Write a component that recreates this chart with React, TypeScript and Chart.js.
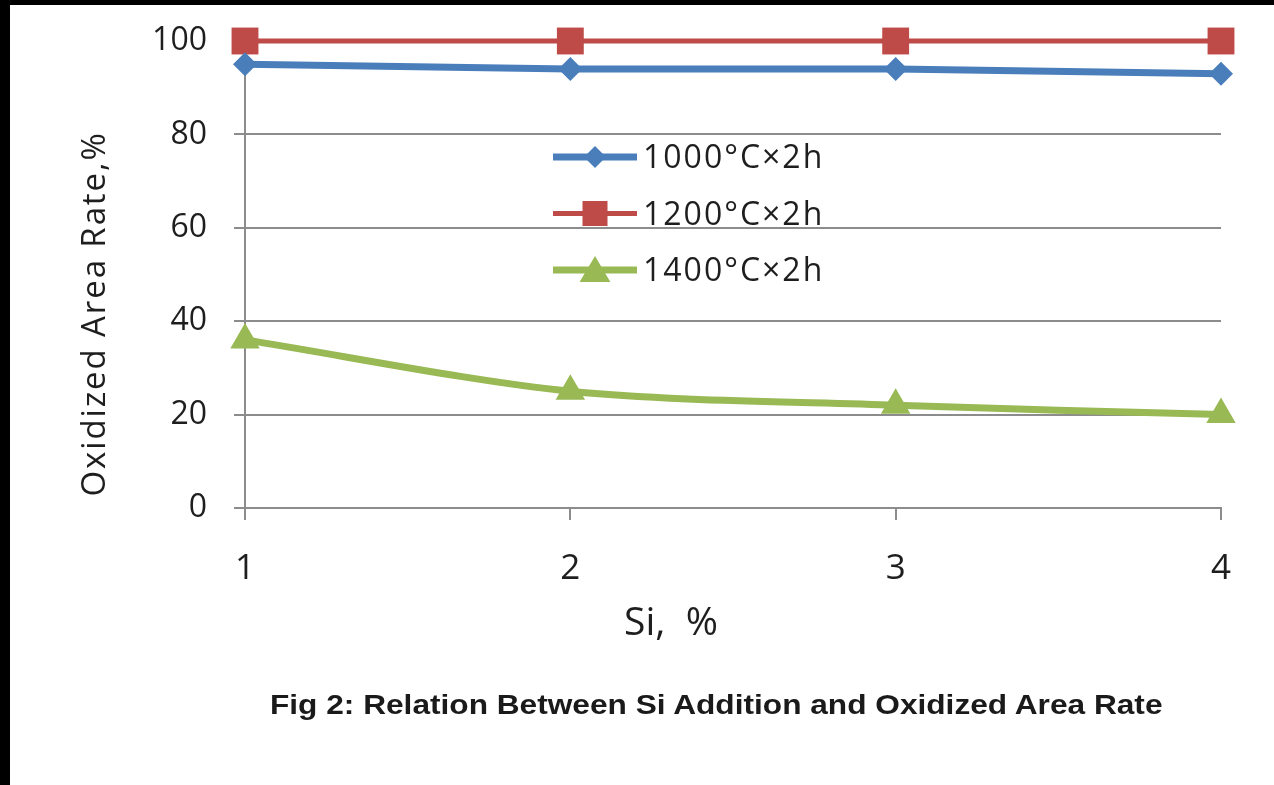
import React, { useEffect, useRef } from "react";
import { Chart, registerables } from "chart.js";

Chart.register(...registerables);

// ---- data ----
const categories = ["1", "2", "3", "4"];
const rate1000 = [95, 94, 94, 93];
const rate1200 = [100, 100, 100, 100];
const rate1400 = [36, 25, 22, 20];
const seriesNames = ["1000°C×2h", "1200°C×2h", "1400°C×2h"];
const yTickValues = [0, 20, 40, 60, 80, 100];
const xAxisTitle = "Si,  %";
const yAxisTitle = "Oxidized Area Rate,%";
const captionText = "Fig 2: Relation Between Si Addition and Oxidized Area Rate";

// ---- styles ----
const BLUE = "#4A7EBB";
const RED = "#BE4B48";
const GREEN = "#98B954";
const GRID = "#8C8C8C";
const TEXT = "#1E1E1E";
const FONT = '"Open Sans", "Noto Sans", sans-serif';

function drawMarker(ctx: CanvasRenderingContext2D, style: string, x: number, y: number, size: number) {
  ctx.beginPath();
  if (style === "rectRot") {
    ctx.moveTo(x, y - size);
    ctx.lineTo(x + size, y);
    ctx.lineTo(x, y + size);
    ctx.lineTo(x - size, y);
    ctx.closePath();
  } else if (style === "rect") {
    ctx.rect(x - size, y - size, size * 2, size * 2);
  } else {
    ctx.moveTo(x, y - size);
    ctx.lineTo(x + size * 1.1, y + size * 0.85);
    ctx.lineTo(x - size * 1.1, y + size * 0.85);
    ctx.closePath();
  }
  ctx.fill();
}

const insideLegend = {
  id: "insideLegend",
  afterDatasetsDraw(chart: any) {
    const { ctx, chartArea } = chart;
    const x0 = chartArea.left + 308;
    const x1 = chartArea.left + 392;
    const xm = (x0 + x1) / 2;
    const sizes = [11, 12.5, 14];
    chart.data.datasets.forEach((ds: any, i: number) => {
      const y = chartArea.top + 116 + i * 56.5;
      ctx.save();
      ctx.strokeStyle = ds.borderColor;
      ctx.lineWidth = ds.borderWidth;
      ctx.beginPath();
      ctx.moveTo(x0, y);
      ctx.lineTo(x1, y);
      ctx.stroke();
      ctx.fillStyle = ds.backgroundColor;
      drawMarker(ctx, ds.pointStyle, xm, y, sizes[i]);
      ctx.fillStyle = TEXT;
      ctx.font = `32px ${FONT}`;
      (ctx as any).letterSpacing = "2px";
      ctx.textAlign = "left";
      ctx.textBaseline = "middle";
      ctx.fillText(ds.label, x1 + 6, y + 2);
      ctx.restore();
    });
  },
};

const axisTitles = {
  id: "axisTitles",
  afterDraw(chart: any) {
    const { ctx, chartArea } = chart;
    ctx.save();
    ctx.fillStyle = TEXT;
    ctx.textAlign = "center";
    ctx.textBaseline = "middle";
    // y title
    ctx.font = `33px ${FONT}`;
    (ctx as any).letterSpacing = "1.9px";
    ctx.translate(chartArea.left - 149, chartArea.top + 273);
    ctx.rotate(-Math.PI / 2);
    ctx.fillText(yAxisTitle, 0, 0);
    ctx.restore();
    ctx.save();
    ctx.fillStyle = TEXT;
    ctx.textAlign = "center";
    ctx.textBaseline = "middle";
    ctx.font = `39px ${FONT}`;
    ctx.fillText(xAxisTitle, chartArea.left + 426, chartArea.bottom + 116);
    ctx.restore();
  },
};

export default function App() {
  const canvasRef = useRef<HTMLCanvasElement | null>(null);

  useEffect(() => {
    if (!canvasRef.current) return;
    const chart = new Chart(canvasRef.current, {
      type: "line",
      data: {
        labels: categories,
        datasets: [
          {
            label: seriesNames[0],
            data: rate1000,
            borderColor: BLUE,
            backgroundColor: BLUE,
            borderWidth: 7,
            pointStyle: "rectRot",
            pointRadius: 12,
            pointBorderWidth: 0,
            tension: 0,
            clip: false,
          },
          {
            label: seriesNames[1],
            data: rate1200,
            borderColor: RED,
            backgroundColor: RED,
            borderWidth: 5,
            pointStyle: "rect",
            pointRadius: 19,
            pointBorderWidth: 0,
            tension: 0,
            clip: false,
          },
          {
            label: seriesNames[2],
            data: rate1400,
            borderColor: GREEN,
            backgroundColor: GREEN,
            borderWidth: 7,
            pointStyle: "triangle",
            pointRadius: 17,
            pointBorderWidth: 0,
            tension: 0.3,
            clip: false,
          },
        ] as any,
      },
      options: {
        animation: false,
        responsive: false,
        devicePixelRatio: 1,
        layout: { padding: { left: 0, top: 41, right: 53, bottom: 177 } },
        plugins: {
          legend: { display: false },
          tooltip: { enabled: false },
          title: { display: false },
        },
        scales: {
          x: {
            type: "category",
            offset: false,
            afterFit: (scale: any) => {
              scale.height = 100;
            },
            grid: {
              display: true,
              drawOnChartArea: false,
              drawTicks: true,
              tickLength: 12,
              color: GRID,
              lineWidth: 2,
            },
            border: { display: true, color: GRID, width: 2 },
            ticks: {
              color: TEXT,
              font: { family: FONT, size: 35 },
              padding: 28,
              maxRotation: 0,
            },
          },
          y: {
            type: "linear",
            min: 0,
            max: 100,
            afterFit: (scale: any) => {
              scale.width = 245;
              scale.paddingTop = 20;
              scale.paddingBottom = 20;
            },
            afterBuildTicks: (scale: any) => {
              scale.ticks = yTickValues.map((v) => ({ value: v }));
            },
            grid: {
              display: true,
              drawOnChartArea: true,
              drawTicks: true,
              tickLength: 11,
              color: GRID,
              lineWidth: 2,
            },
            border: { display: true, color: GRID, width: 2 },
            ticks: {
              color: TEXT,
              font: { family: FONT, size: 32 },
              padding: 27,
            },
          },
        },
      },
      plugins: [insideLegend, axisTitles],
    });
    return () => chart.destroy();
  }, []);

  return (
    <div
      style={{
        position: "absolute",
        left: 0,
        top: 0,
        width: 1274,
        height: 785,
        background: "#ffffff",
        overflow: "hidden",
      }}
    >
      <canvas
        ref={canvasRef}
        width={1274}
        height={785}
        style={{ position: "absolute", left: 0, top: 0, display: "block" }}
      />
      <div
        style={{
          position: "absolute",
          left: 270,
          top: 691,
          fontFamily: '"Liberation Sans", Arial, sans-serif',
          fontWeight: "bold",
          fontSize: 28,
          lineHeight: "28px",
          color: "#1a1a1a",
          whiteSpace: "nowrap",
          transform: "scaleX(1.13)",
          transformOrigin: "left top",
        }}
      >
        {captionText}
      </div>
      <div style={{ position: "absolute", left: 0, top: 0, width: 1274, height: 5, background: "#000" }} />
      <div style={{ position: "absolute", left: 0, top: 0, width: 10, height: 785, background: "#000" }} />
    </div>
  );
}
